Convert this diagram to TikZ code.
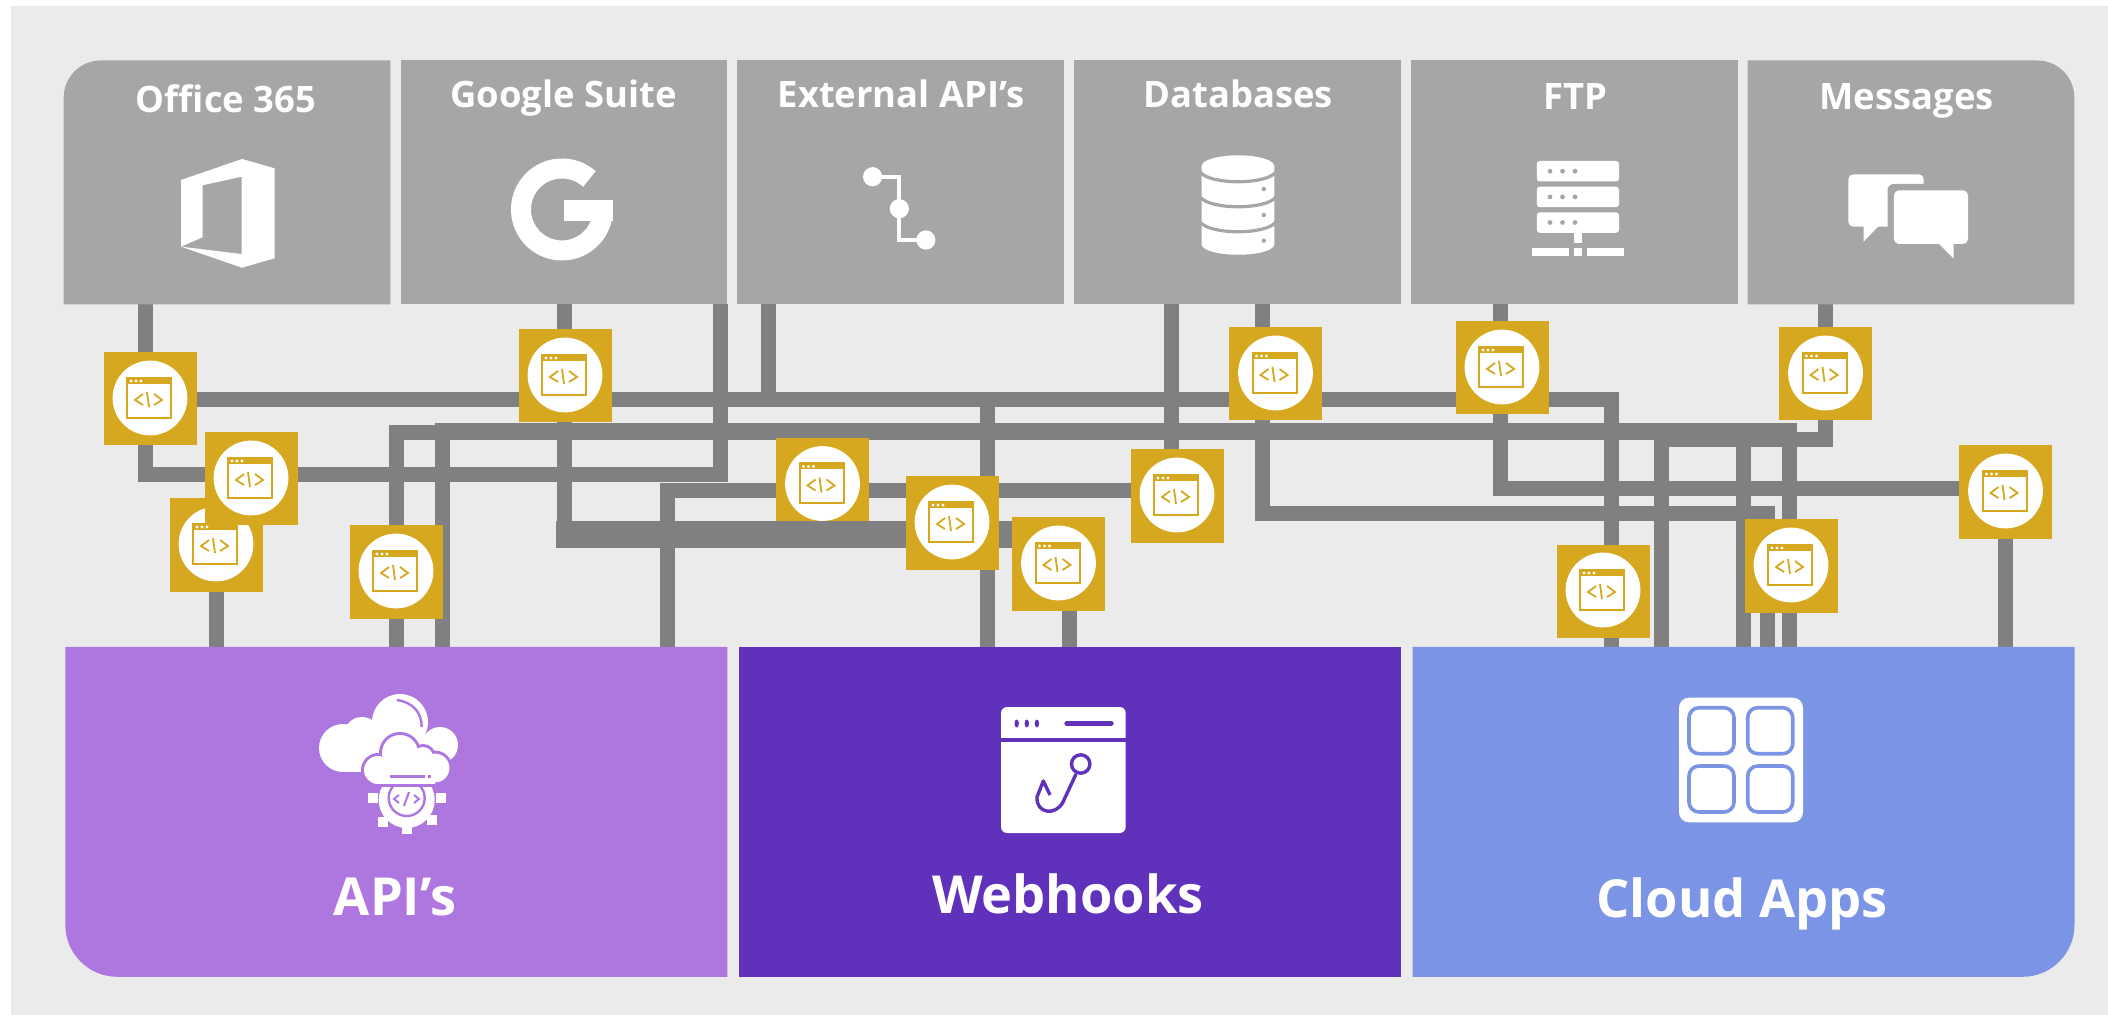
\documentclass[tikz,border=0pt]{standalone}
\usepackage{fontspec}
\setmainfont{Open Sans}
\usetikzlibrary{
  positioning
}

\definecolor{panelgray}{HTML}{EBEBEB}
\definecolor{topgray}{HTML}{A6A6A6}
\definecolor{wiregray}{HTML}{808080}
\definecolor{apigold}{HTML}{D6A81F}
\definecolor{apipurple}{HTML}{AE76DF}
\definecolor{hookpurple}{HTML}{6031BA}
\definecolor{cloudblue}{HTML}{7C94E6}

\pgfdeclarelayer{back}
\pgfdeclarelayer{wires}
\pgfsetlayers{back,wires,main}

\tikzset{
  topbox/.style={rectangle, fill=topgray, inner sep=0pt, outer sep=0pt, minimum width=163.3pt, minimum height=122pt},
  bottombox/.style={rectangle, inner sep=0pt, outer sep=0pt, minimum width=331pt, minimum height=165pt},
  toplabel/.style={text=white, anchor=base, inner sep=0pt, font=\bfseries\fontsize{18.2}{20}\selectfont},
  bottomlabel/.style={text=white, anchor=base, inner sep=0pt, font=\bfseries\fontsize{26.2}{30}\selectfont},
  apibox/.style={rectangle, fill=apigold, inner sep=0pt, minimum size=46.5pt},
  wire/.style={draw=wiregray, line width=7.5pt},
  pics/apiwindow/.style={code={
    \fill[white] (0,-1) circle[radius=18.7pt];
    \draw[apigold, line width=1pt] (-23,-21) rectangle (21,19);
    \fill[apigold] (-23,-21) rectangle (21,-15);
    \foreach \dotx in {-19,-14,-9} {\fill[white] (\dotx,-18) circle[radius=.8pt];}
    \draw[apigold, line width=.9pt] (-7,-5) -- (-15,1) -- (-7,6);
    \draw[apigold, line width=.9pt] (4,-5) -- (12,1) -- (4,6);
    \draw[apigold, line width=.9pt] (-3,-7) -- (-1,8);
  }}
}

\begin{document}
\begin{tikzpicture}[x=.5pt, y=-.5pt, node distance=5.1pt]

\useasboundingbox (0,0) rectangle (2108,1015);
\begin{pgfonlayer}{back}
  \fill[panelgray] (11,6) rectangle (2108,1015);
\end{pgfonlayer}

% sources
\node (office) [topbox, fill=none] at (227,182.5) {};
\node (google) [topbox, right=of office] {};
\node (external) [topbox, right=of google] {};
\node (databases) [topbox, right=of external] {};
\node (ftp) [topbox, right=of databases] {};
\node (messages) [topbox, fill=none, right=of ftp] {};
\fill[topgray] (office.south west) [rounded corners=18.5pt] -- (office.north west) [sharp corners] -- (office.north east) -- (office.south east) -- cycle;
\fill[topgray] (messages.north west) [rounded corners=18.5pt] -- (messages.north east) [sharp corners] -- (messages.south east) -- (messages.south west) -- cycle;

\node (officelabel) [toplabel] at (226,113) {Office 365};
\node (googlelabel) [toplabel] at (563.6,108) {Google Suite};
\node (externallabel) [toplabel] at (901,108) {External API’s};
\node (databaseslabel) [toplabel] at (1238,108) {Databases};
\node (ftplabel) [toplabel] at (1575,110) {FTP};
\node (messageslabel) [toplabel] at (1906.5,110) {Messages};

% targets
\node (apis) [bottombox, fill=none] at (396.3,811.8) {};
\node (webhooks) [bottombox, fill=hookpurple, right=5.8pt of apis] {};
\node (cloud) [bottombox, fill=none, right=5.8pt of webhooks] {};
\fill[apipurple] (apis.north west) [rounded corners=26pt] -- (apis.south west) [sharp corners] -- (apis.south east) -- (apis.north east) -- cycle;
\fill[cloudblue] (cloud.north east) [rounded corners=26pt] -- (cloud.south east) [sharp corners] -- (cloud.south west) -- (cloud.north west) -- cycle;

\node (apislabel) [bottomlabel] at (395,915) {API’s};
\node (webhookslabel) [bottomlabel] at (1068,913) {Webhooks};
\node (cloudlabel) [bottomlabel] at (1742,917) {Cloud Apps};

% icons of the sources
\fill[white] (181,180) -- (242,159) -- (274.6,168.3) -- (274.6,258.3) -- (242,267.7) -- (181,246.7) -- (241.5,254) -- (241.5,176.7) -- (202.5,185.3) -- (202.5,237.3) -- (181,246.7) -- cycle;

\draw[white, line width=10pt] (589.4,179) arc[start angle=48, end angle=360, radius=20.5pt];
\fill[white] (564,200) rectangle (613,221);

\draw[white, line width=2pt] (872.6,176.7) -- (899.3,176.7) -- (899.3,240) -- (925.9,240);
\foreach \hubx/\huby in {872.6/176.7, 899.3/208.7, 925.9/240} {
  \fill[white] (\hubx,\huby) circle[radius=4.8pt];
}

\fill[white] (1201.7,166) -- (1201.7,245) .. controls (1206,258) and (1270,258) .. (1274.3,245) -- (1274.3,166) -- cycle;
\foreach \stacky in {172,197,222} {
  \draw[topgray, line width=1.6pt] (1200,\stacky) .. controls (1210,\stacky+13) and (1266,\stacky+13) .. (1276,\stacky);
}
\fill[white] (1238,166) ellipse[x radius=18.15pt, y radius=5.35pt];
\foreach \stacky in {189,215,240.7} {
  \fill[topgray] (1263.8,\stacky) circle[radius=1.1pt];
}

\foreach \racky in {161,186.7,212.3} {
  \fill[white, rounded corners=1.5pt] (1536.8,\racky) rectangle (1619,\racky+20.5);
  \foreach \dotx in {1550,1562.5,1575} {
    \fill[topgray] (\dotx,\racky+10.2) circle[radius=1.2pt];
  }
}
\fill[white] (1573.8,232) rectangle (1582,243);
\fill[white] (1531.8,248.3) rectangle (1568.8,256);
\fill[white] (1573.8,248.3) rectangle (1582,256);
\fill[white] (1587.4,248.3) rectangle (1624.4,256);

\fill[white, rounded corners=2.5pt] (1848.3,174.3) rectangle (1923.7,226.7);
\fill[white] (1863.6,226) -- (1863.6,241.7) -- (1878.6,226) -- cycle;
\fill[topgray, rounded corners=3pt] (1887.6,184) rectangle (1975,250);
\fill[white, rounded corners=2.5pt] (1893.9,190.3) rectangle (1968,244);
\fill[white] (1938,243) -- (1953.5,258.3) -- (1953.5,243) -- cycle;

% icons of the targets
\fill[white] (400,722) circle[radius=14pt];
\fill[white] (343,748) circle[radius=12pt];
\fill[white] (362,735) circle[radius=9pt];
\fill[white] (440,745) circle[radius=9pt];
\fill[white] (343,735) rectangle (425,772);
\draw[apipurple, line width=1.2pt] (396.7,700) .. controls (412,702) and (422,712) .. (421.7,727);
\fill[white] (406.7,800) circle[radius=14pt];
\foreach \toothx/\toothy in {372.7/798, 440.7/798, 407/829, 383/822, 431.7/820} {
  \fill[white] (\toothx-5,\toothy-5) rectangle (\toothx+5,\toothy+5);
}
\draw[apipurple, line width=1.2pt] (406.7,798) circle[radius=9pt];
\draw[apipurple, line width=1pt] (399,795) -- (394,799) -- (399,803);
\draw[apipurple, line width=1pt] (414,795) -- (419,799) -- (414,803);
\draw[apipurple, line width=1pt] (409,792) -- (404,806);
\foreach \lobex/\lobey/\lober in {400/753/9pt, 378/770/7pt, 435/768/7.2pt, 423/757/5pt} {
  \draw[apipurple, line width=3pt] (\lobex,\lobey) circle[radius=\lober];
}
\draw[apipurple, line width=3pt] (378,784) -- (436,784);
\foreach \lobex/\lobey/\lober in {400/753/9pt, 378/770/7pt, 435/768/7.2pt, 423/757/5pt} {
  \fill[white] (\lobex,\lobey) circle[radius=\lober];
}
\fill[white] (378,760) rectangle (435,784);
\fill[apipurple] (390,775) rectangle (425,778.3);
\fill[apipurple] (428,775) rectangle (431,778.3);

\fill[white, rounded corners=3pt] (1001,707) rectangle (1125.7,833);
\fill[hookpurple] (1001,737.7) rectangle (1125.7,742);
\foreach \dotx in {1016.7,1026.8,1036.9} {
  \fill[hookpurple] (\dotx,723.5) ellipse[x radius=1.1pt, y radius=2pt];
}
\draw[hookpurple, line width=2.2pt, line cap=round] (1066.5,723.5) -- (1111.5,723.5);
\draw[hookpurple, line width=1.7pt] (1080.7,764) circle[radius=4.6pt];
\draw[hookpurple, line width=1.7pt, line join=round] (1076,774) -- (1063,802) .. controls (1056,816) and (1036,814) .. (1037,797) -- (1043.3,781) -- (1050,795);

\fill[white, rounded corners=5pt] (1679,697.7) rectangle (1803,822.3);
\foreach \gridx/\gridy in {1689/707.7, 1747.7/707.7, 1689/766, 1747.7/766} {
  \draw[cloudblue, line width=1.8pt, rounded corners=5pt] (\gridx,\gridy) rectangle ++(45,46);
}

% code windows
\foreach \apiname/\apix/\apiy in {
  codea/150/399, codec/216/545, codeb/251/479, coded/396/572,
  codeg/565/376, codee/822.5/484.5, coder/1177/496, coday/1275.5/374,
  codef/1502/368, codem/1825.5/374, codeh/1603/591, codek/1791/566,
  coden/2005.5/492
} {
  \node (\apiname) [apibox] at (\apix,\apiy) {};
  \pic at (\apiname) {apiwindow};
}

% the double run lies over one of the windows
\coordinate (bandleft) at (556,534.5);
\coordinate (bandright) at (1069.7,534.5);
\draw[draw=wiregray, line width=13.5pt] (bandleft) -- (bandright);

\foreach \apiname/\apix/\apiy in {codep/952/523, codeq/1058.5/564} {
  \node (\apiname) [apibox] at (\apix,\apiy) {};
  \pic at (\apiname) {apiwindow};
}

\begin{pgfonlayer}{wires}
  \coordinate (officeturn) at (145,474.5);
  \coordinate (suiteturn) at (720.5,474.5);
  \draw[wire] (office.south -| officeturn) -- (officeturn) -- (suiteturn) -- (google.south -| suiteturn);

  \coordinate (crossturn) at (1611,400);
  \draw[wire] (codea |- crossturn) -- (crossturn) -- (cloud.north -| crossturn);

  \coordinate (externalturn) at (768,400);
  \coordinate (hookturn) at (987,400);
  \draw[wire] (external.south -| externalturn) -- (externalturn) -- (hookturn) -- (webhooks.north -| hookturn);

  \coordinate (suitedrop) at (564,548);
  \draw[wire] (google.south -| suitedrop) -- (suitedrop);
  \draw[wire] (bandright) -- (webhooks.north -| bandright);

  \coordinate (leftturn) at (396.5,432.5);
  \coordinate (midturn) at (1661,432.5);
  \draw[wire] (apis.north -| leftturn) -- (leftturn) -- (midturn) -- (cloud.north -| midturn);

  \coordinate (nextturn) at (442,430.4);
  \coordinate (endturn) at (1789,430.4);
  \draw[wire] (apis.north -| nextturn) -- (nextturn) -- (endturn) -- (cloud.north -| endturn);

  \coordinate (messageturn) at (1825.7,440);
  \coordinate (messagejoin) at (1661,440);
  \coordinate (messagebranch) at (1743.6,440);
  \draw[wire] (messages.south -| messageturn) -- (messageturn) -- (messagejoin);
  \draw[wire] (messagebranch) -- (cloud.north -| messagebranch);

  \coordinate (dbturn) at (1171,490.5);
  \coordinate (dbleft) at (667,490.5);
  \draw[wire] (databases.south -| dbturn) -- (dbturn) -- (dbleft) -- (apis.north -| dbleft);

  \coordinate (dbdrop) at (1262,513.4);
  \coordinate (dbright) at (1767.7,513.4);
  \draw[wire] (databases.south -| dbdrop) -- (dbdrop) -- (dbright) -- (cloud.north -| dbright);

  \coordinate (ftpturn) at (1500.7,489);
  \coordinate (ftpright) at (2005.8,489);
  \draw[wire] (ftp.south -| ftpturn) -- (ftpturn) -- (ftpright) -- (cloud.north -| ftpright);

  \draw[wire] (codec) -- (apis.north -| codec);
\end{pgfonlayer}

\end{tikzpicture}
\end{document}
